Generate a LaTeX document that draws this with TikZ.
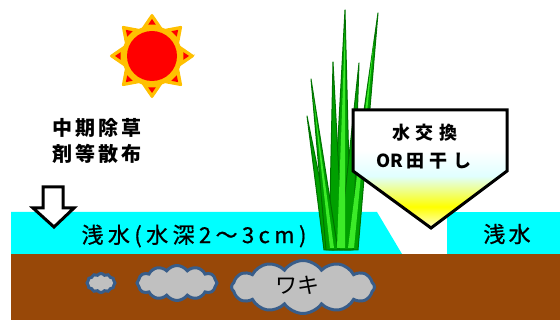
\documentclass[tikz,border=0pt]{standalone}
\usepackage{fontspec}
\usetikzlibrary{shapes.symbols}

\newfontfamily\jp{Noto Sans CJK JP}

\definecolor{water}{RGB}{0,255,255}
\definecolor{soil}{RGB}{152,72,8}
\definecolor{wakigray}{RGB}{192,192,192}
\definecolor{wakiline}{RGB}{56,93,138}
\definecolor{sunray}{RGB}{255,192,0}
\definecolor{sunred}{RGB}{255,0,0}
\definecolor{leafgreen}{RGB}{0,160,0}
\definecolor{leafedge}{RGB}{0,115,0}
\definecolor{leafbright}{RGB}{60,235,40}

\pgfdeclareverticalshading{drainfill}{100bp}{color(0bp)=(yellow!20); color(25bp)=(yellow!20); color(34bp)=(yellow); color(47bp)=(cyan!12); color(58bp)=(white); color(100bp)=(white)}

\tikzset{
  leaf/.style={fill=leafgreen, draw=leafedge, line width=1pt, line join=round},
  leaflight/.style={fill=leafbright},
  waki/.style={cloud, cloud puffs=12, cloud puff arc=110, inner sep=0pt,
    fill=wakigray, draw=wakiline, line width=3pt},
}

\begin{document}
\begin{tikzpicture}[x=1pt,y=-1pt]
\useasboundingbox (0,0) rectangle (560,320);
\fill[white] (0,0) rectangle (560,320);

% sun
\begin{scope}[shift={(152,56)}]
\fill[sunray, rounded corners=2pt] (0:43)
  \foreach \a in {0,45,...,315} {-- (\a+22.5:29) -- (\a+45:43)} -- cycle;
\foreach \a in {0,45,...,315}
  \fill[sunred] (\a:37) -- (\a+7:31.5) -- (\a-7:31.5) -- cycle;
\fill[sunred] (0,0) circle (25);
\end{scope}

% water and soil
\fill[water] (11,212) -- (377,212) -- (402,254) -- (11,254) -- cycle;
\fill[water] (447,212) rectangle (560,254);
\fill[soil] (11,254) rectangle (560,320);

\node[waki, minimum width=28pt, minimum height=19pt, aspect=1.5] (waki1) at (101,283) {};
\node[waki, minimum width=80pt, minimum height=35pt, aspect=2.3] (waki2) at (177,283) {};
\node[waki, minimum width=143pt, minimum height=53pt, aspect=2.7] (waki3) at (303,287) {};
\node[font=\jp\fontsize{22}{26}\selectfont] (wakitext) at (297,285) {ワキ};

% rice plant
\draw[leaf] (324,250) -- (307,116) -- (334,250) -- cycle;
\draw[leaf] (332,250) -- (345,10) -- (351,250) -- cycle;
\draw[leaf] (344,250) -- (378,13) -- (358,250) -- cycle;
\draw[leaf] (329,250) -- (333,62) -- (343,250) -- cycle;
\draw[leaf] (339,250) -- (359,63) -- (353,250) -- cycle;
\draw[leaf] (326,250) -- (311,79) -- (338,250) -- cycle;
\fill[leaflight] (337,248) -- (345,30) -- (345,248) -- cycle;
\fill[leaflight] (348,248) -- (374,40) -- (354,248) -- cycle;
\fill[leaflight] (330,248) -- (313,95) -- (334,248) -- cycle;

% callout
\draw[shading=drainfill, line width=3pt, line join=miter]
  (353,110) -- (507,110) -- (507,171) -- (431,228) -- (353,171) -- cycle;
\node[font=\jp\bfseries\addfontfeatures{LetterSpace=30}\fontsize{18}{22}\selectfont] (change) at (425,133) {水交換};
\node[font=\jp\bfseries\fontsize{18}{22}\selectfont] (dry) at (424,161) {OR\,{\addfontfeatures{LetterSpace=30}田干し}};

% herbicide
\node[font=\jp\bfseries\addfontfeatures{LetterSpace=16}\fontsize{20}{26.5}\selectfont, align=center] (herbicide) at (97,141) {中期除草\\剤等散布};
\draw[fill=white, line width=3pt, line join=miter]
  (43,187) -- (63,187) -- (63,208) -- (74,208) -- (54,227) -- (33,208) -- (43,208) -- cycle;

\node[font=\jp\addfontfeatures{LetterSpace=20,FakeBold=0.8}\fontsize{22}{26}\selectfont] (shallow) at (194,236) {浅水(水深2～3cm)};
\node[font=\jp\addfontfeatures{LetterSpace=15,FakeBold=0.8}\fontsize{22}{26}\selectfont] (shallowr) at (507,234) {浅水};
\end{tikzpicture}
\end{document}
